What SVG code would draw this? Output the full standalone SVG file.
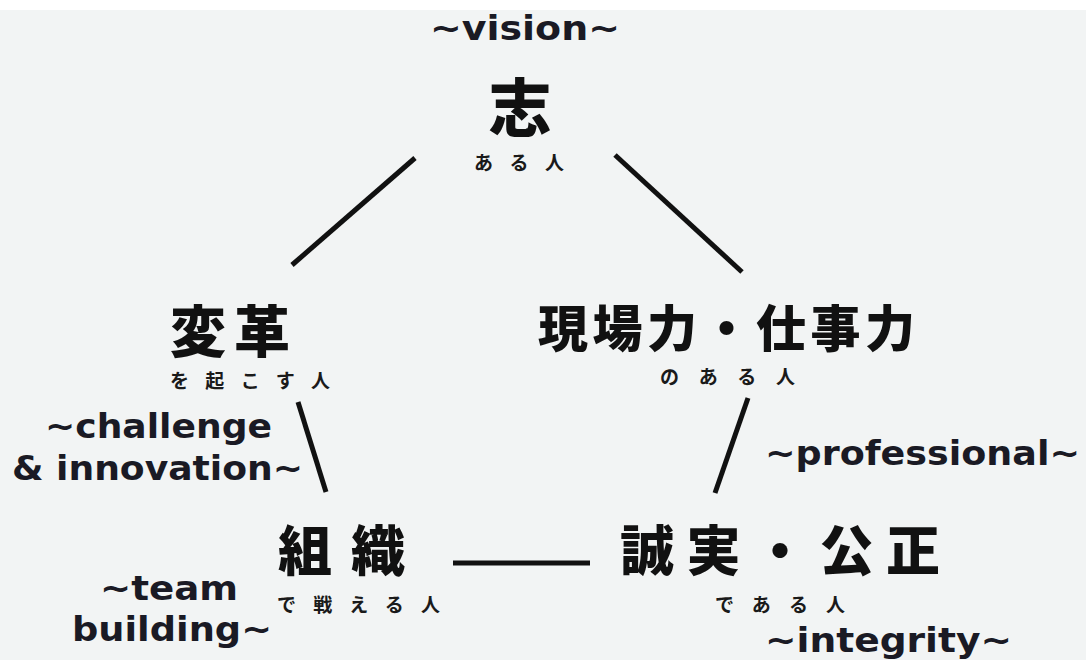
<svg xmlns="http://www.w3.org/2000/svg" width="1086" height="660" viewBox="0 0 1086 660">
<style>
.en{font-family:"DejaVu Sans","Liberation Sans",sans-serif;font-weight:bold;font-size:33px;fill:#1a1a24}
.kj{font-family:"Noto Sans CJK JP",sans-serif;font-weight:900;fill:#111}
.sub{font-family:"Noto Sans CJK JP",sans-serif;font-weight:bold;font-size:19px;fill:#1a1a1a}
.ln{stroke:#111;stroke-width:5;stroke-linecap:butt}
</style>
<rect width="1086" height="660" fill="#f2f4f4"/>
<rect width="1086" height="10" fill="#ffffff"/>
<g id="connectors">
<line class="ln" x1="415" y1="158" x2="292" y2="265"/>
<line class="ln" x1="615" y1="155" x2="742" y2="272"/>
<line class="ln" x1="298" y1="402" x2="326" y2="492"/>
<line class="ln" x1="748" y1="398" x2="715" y2="493"/>
<line class="ln" x1="453" y1="563" x2="590" y2="563"/>
</g>
<g id="node-vision">
<text class="en" x="430" y="40" textLength="190" lengthAdjust="spacingAndGlyphs">~vision~</text>
<text class="kj" x="520" y="131" font-size="63" text-anchor="middle">志</text>
<text class="sub" x="474" y="170" textLength="90">ある人</text>
</g>
<g id="node-henkaku">
<text class="kj" x="170" y="352" font-size="56" textLength="120">変革</text>
<text class="sub" x="170" y="388" textLength="160">を起こす人</text>
<text class="en" x="45" y="438" textLength="227" lengthAdjust="spacingAndGlyphs">~challenge</text>
<text class="en" x="12" y="480" textLength="291" lengthAdjust="spacingAndGlyphs">&amp; innovation~</text>
</g>
<g id="node-genba">
<text class="kj" x="538" y="347" font-size="50" textLength="377">現場力・仕事力</text>
<text class="sub" x="660" y="384" textLength="135">のある人</text>
<text class="en" x="765" y="465" textLength="315" lengthAdjust="spacingAndGlyphs">~professional~</text>
</g>
<g id="node-soshiki">
<text class="kj" x="278" y="571" font-size="54" textLength="127">組織</text>
<text class="sub" x="277" y="612" textLength="163">で戦える人</text>
<text class="en" x="100" y="600" textLength="138" lengthAdjust="spacingAndGlyphs">~team</text>
<text class="en" x="72" y="641" textLength="200" lengthAdjust="spacingAndGlyphs">building~</text>
</g>
<g id="node-seijitsu">
<text class="kj" x="620" y="571" font-size="54" textLength="320">誠実・公正</text>
<text class="sub" x="715" y="612" textLength="130">である人</text>
<text class="en" x="765" y="652" textLength="247" lengthAdjust="spacingAndGlyphs">~integrity~</text>
</g>
</svg>
